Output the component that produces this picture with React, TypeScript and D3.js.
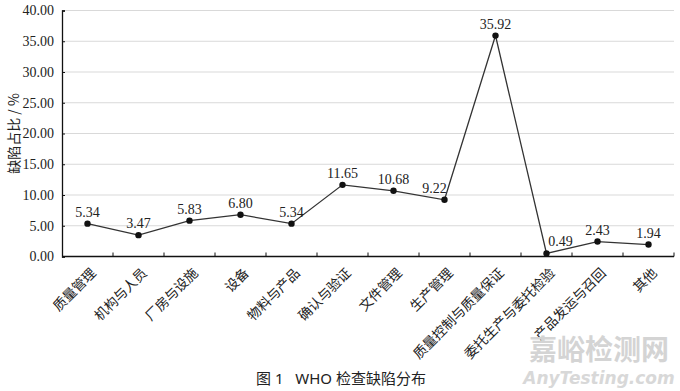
import * as d3 from "d3";
import { useEffect, useRef } from "react";

// categories and defect share (%)
const categories = [
  "质量管理",
  "机构与人员",
  "厂房与设施",
  "设备",
  "物料与产品",
  "确认与验证",
  "文件管理",
  "生产管理",
  "质量控制与质量保证",
  "委托生产与委托检验",
  "产品发运与召回",
  "其他",
];
const values = [5.34, 3.47, 5.83, 6.8, 5.34, 11.65, 10.68, 9.22, 35.92, 0.49, 2.43, 1.94];
const yTicks = [0, 5, 10, 15, 20, 25, 30, 35, 40];

// small nudges for a few value labels so they don't sit on the line
const labelNudge: Record<number, number> = { 7: -10, 9: 14 };

const W = 680;
const H = 391;
const serif = "'Liberation Serif', 'Times New Roman', serif";
const cjk = "'Noto Sans CJK SC', 'Noto Sans', sans-serif";

const App = () => {
  const ref = useRef<SVGSVGElement>(null);

  useEffect(() => {
    if (!ref.current) return;
    document.body.style.margin = "0";
    const svg = d3.select(ref.current);
    svg.selectAll("*").remove();

    const left = 62;
    const right = 674;
    const top = 10.5;
    const bottom = 256.5;

    const x = d3.scaleBand<string>().domain(categories).range([left, right]).padding(0);
    const y = d3.scaleLinear().domain([0, 40]).range([bottom, top]);
    const cx = (c: string) => (x(c) ?? 0) + x.bandwidth() / 2;

    // gridlines
    svg
      .append("g")
      .selectAll("line")
      .data(yTicks.filter((t) => t > 0))
      .join("line")
      .attr("x1", left)
      .attr("x2", right)
      .attr("y1", (d) => y(d))
      .attr("y2", (d) => y(d))
      .attr("stroke", "#d9d9d9")
      .attr("stroke-width", 1.2);

    // y axis
    const yAxis = svg
      .append("g")
      .attr("transform", `translate(${left},0)`)
      .call(
        d3
          .axisLeft(y)
          .tickValues(yTicks)
          .tickFormat((d) => d3.format(".2f")(d as number))
          .tickSize(-3)
          .tickPadding(8)
      );
    yAxis.select(".domain").attr("stroke", "#111").attr("stroke-width", 1.3);
    yAxis.selectAll(".tick line").attr("stroke", "#111");
    yAxis
      .selectAll("text")
      .attr("font-family", serif)
      .attr("font-size", 14)
      .attr("fill", "#222");

    // x axis with ticks at category boundaries
    const xAxis = svg.append("g").attr("transform", `translate(0,${bottom})`);
    xAxis
      .append("line")
      .attr("x1", left)
      .attr("x2", right)
      .attr("stroke", "#111")
      .attr("stroke-width", 1.3);
    xAxis
      .selectAll("line.tk")
      .data(categories.slice(1).concat(["__end"]))
      .join("line")
      .attr("class", "tk")
      .attr("x1", (d) => (d === "__end" ? right : x(d) ?? 0))
      .attr("x2", (d) => (d === "__end" ? right : x(d) ?? 0))
      .attr("y1", 0)
      .attr("y2", -4)
      .attr("stroke", "#111");
    xAxis
      .selectAll("text")
      .data(categories)
      .join("text")
      .attr("transform", (d) => `translate(${cx(d) + 6},14) rotate(-45)`)
      .attr("text-anchor", "end")
      .attr("dy", "0.35em")
      .attr("font-family", cjk)
      .attr("font-size", 13.5)
      .attr("fill", "#222")
      .text((d) => d);

    // line
    const line = d3
      .line<number>()
      .x((_d, i) => cx(categories[i]))
      .y((d) => y(d));
    svg
      .append("path")
      .datum(values)
      .attr("d", line)
      .attr("fill", "none")
      .attr("stroke", "#333")
      .attr("stroke-width", 1.3);

    svg
      .append("g")
      .selectAll("circle")
      .data(values)
      .join("circle")
      .attr("cx", (_d, i) => cx(categories[i]))
      .attr("cy", (d) => y(d))
      .attr("r", 3.2)
      .attr("fill", "#111");

    svg
      .append("g")
      .selectAll("text")
      .data(values)
      .join("text")
      .attr("x", (_d, i) => cx(categories[i]) + (labelNudge[i] ?? 0))
      .attr("y", (d) => y(d) - 7)
      .attr("text-anchor", "middle")
      .attr("font-family", serif)
      .attr("font-size", 14)
      .attr("fill", "#222")
      .text((d) => d3.format(".2f")(d));

    // y axis title
    svg
      .append("text")
      .attr("transform", `translate(14,${(top + bottom) / 2}) rotate(-90)`)
      .attr("text-anchor", "middle")
      .attr("dy", "0.35em")
      .attr("font-family", cjk)
      .attr("font-size", 14)
      .attr("fill", "#222")
      .text("缺陷占比 / %");

    // caption
    svg
      .append("text")
      .attr("x", 341)
      .attr("y", 384)
      .attr("text-anchor", "middle")
      .attr("font-family", "'Noto Sans', 'Noto Sans CJK SC', sans-serif")
      .attr("font-size", 15)
      .attr("fill", "#222")
      .style("white-space", "pre")
      .text("图 1   WHO 检查缺陷分布");

    // watermark
    svg
      .append("text")
      .attr("x", 599)
      .attr("y", 360)
      .attr("text-anchor", "middle")
      .attr("font-family", cjk)
      .attr("font-size", 28)
      .attr("font-weight", "bold")
      .attr("fill", "#d4d4d4")
      .text("嘉峪检测网");
    svg
      .append("text")
      .attr("x", 599)
      .attr("y", 384)
      .attr("text-anchor", "middle")
      .attr("font-family", "'DejaVu Sans', sans-serif")
      .attr("font-size", 17)
      .attr("font-style", "italic")
      .attr("font-weight", "bold")
      .attr("fill", "#d8d8d8")
      .text("AnyTesting.com");
  }, []);

  return (
    <svg
      ref={ref}
      width={W}
      height={H}
      style={{ display: "block", background: "#fff" }}
    />
  );
};

export default App;
